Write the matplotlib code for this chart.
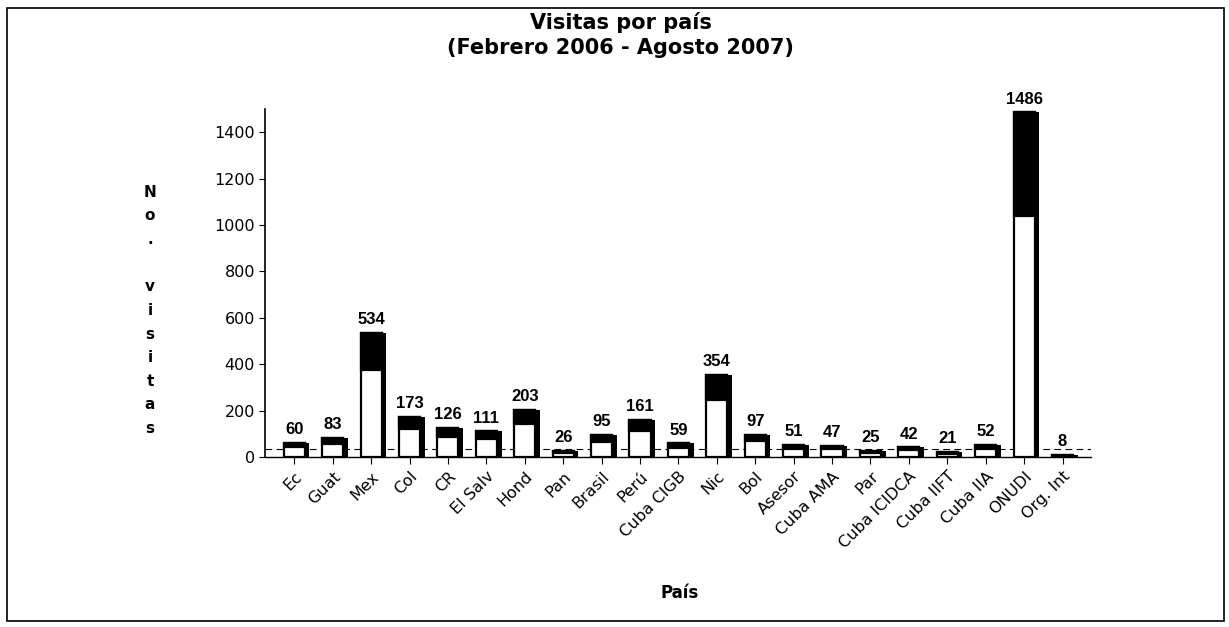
import matplotlib.pyplot as plt
from matplotlib.patches import Rectangle

paises = ['Ec', 'Guat', 'Mex', 'Col', 'CR', 'El Salv', 'Hond', 'Pan', 'Brasil',
          'Perú', 'Cuba CIGB', 'Nic', 'Bol', 'Asesor', 'Cuba AMA', 'Par',
          'Cuba ICIDCA', 'Cuba IIFT', 'Cuba IIA', 'ONUDI', 'Org. Int']
visitas = [60, 83, 534, 173, 126, 111, 203, 26, 95, 161, 59, 354, 97, 51, 47,
           25, 42, 21, 52, 1486, 8]
y_ticks = [0, 200, 400, 600, 800, 1000, 1200, 1400]

fig = plt.figure(figsize=(12.29, 6.27), dpi=100)
# outer frame like the scanned border
fig.patches.append(Rectangle((0.006, 0.01), 0.99, 0.978, transform=fig.transFigure,
                             fill=False, edgecolor='black', linewidth=1.2))

ax = fig.add_axes([0.216, 0.271, 0.672, 0.555])
x = list(range(len(paises)))
w = 0.55
side = 0.12

# floor of the 3d look
ax.axhline(35, color='black', linestyle=(0, (6, 4)), linewidth=0.8, zorder=1)

for i, v in enumerate(visitas):
    # white front
    ax.bar(i, v, width=w, color='white', edgecolor='black', linewidth=1.6, zorder=2)
    # dark upper part
    ax.bar(i, v * 0.3, bottom=v * 0.7, width=w, color='black', edgecolor='black',
           linewidth=1.6, zorder=3)
    # dark right side
    ax.bar(i + w / 2 + side / 2, v, width=side, color='black', zorder=3)
    ax.text(i, v + 25, str(v), ha='center', va='bottom', fontsize=12,
            fontweight='bold', family='Liberation Sans')

ax.set_xlim(-0.75, len(paises) - 0.25)
ax.set_ylim(0, 1500)
ax.set_yticks(y_ticks)
ax.set_xticks(x)
ax.set_xticklabels(paises, rotation=45, ha='right', rotation_mode='anchor', fontsize=11.5)
ax.tick_params(axis='y', labelsize=11.5, length=4, direction='out')
ax.tick_params(axis='x', length=5, direction='out')
for s in ['top', 'right']:
    ax.spines[s].set_visible(False)
ax.spines['left'].set_linewidth(1.2)
ax.spines['bottom'].set_linewidth(1.0)

fig.text(0.505, 0.944, 'Visitas por país\n(Febrero 2006 - Agosto 2007)', ha='center',
         va='center', fontsize=15, fontweight='bold', linespacing=1.3)
fig.text(0.122, 0.505, '\n'.join('No. visitas'), ha='center', va='center',
         fontsize=11, fontweight='bold', linespacing=1.72)
fig.text(0.553, 0.055, 'País', ha='center', va='center', fontsize=12, fontweight='bold')

fig.savefig('out.png', dpi=100)
